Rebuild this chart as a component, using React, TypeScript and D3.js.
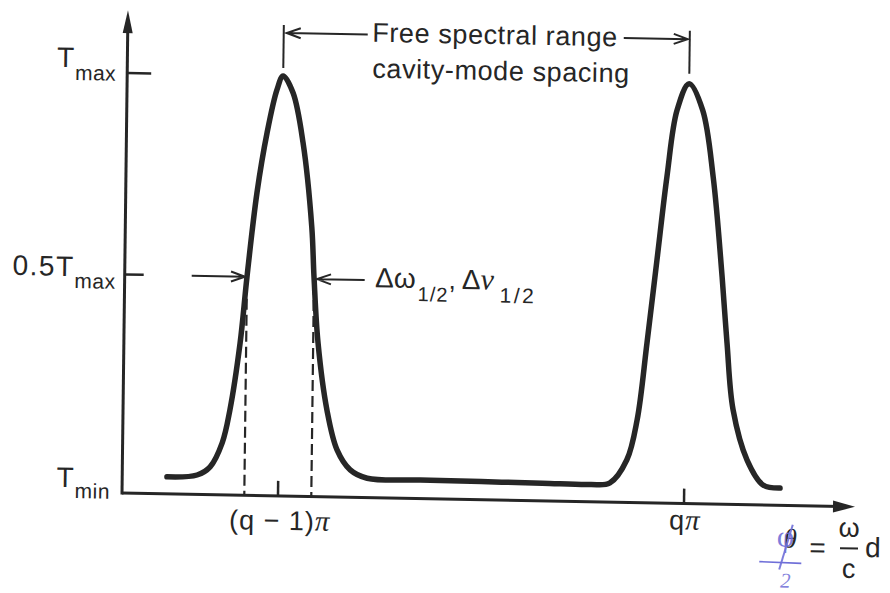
import React from 'react';
import * as d3 from 'd3';

// phase, as offset from (q - 1)π in units of π
const curvePhase = [
    -0.274, -0.2, -0.168, -0.139, -0.121, -0.098, -0.083, -0.061, -0.038, -0.015, 0,
    0.025, 0.051, 0.075, 0.082, 0.094, 0.118, 0.144, 0.177, 0.219,
    0.35, 0.5, 0.65, 0.768, 0.817,
    0.858, 0.882, 0.904, 0.926, 0.948, 0.971, 1,
    1.034, 1.062, 1.087, 1.101, 1.118, 1.154, 1.194, 1.236
];
// transmission, 0 = Tmin, 1 = Tmax
const curveT = [
    0, 0.006, 0.027, 0.087, 0.169, 0.335, 0.5, 0.709, 0.858, 0.965, 1,
    0.958, 0.835, 0.627, 0.503, 0.339, 0.173, 0.075, 0.026, 0.006,
    0.004, 0.003, 0.002, 0.001, 0.006,
    0.064, 0.163, 0.355, 0.561, 0.768, 0.934, 1,
    0.935, 0.769, 0.522, 0.359, 0.193, 0.069, 0.008, 0.001
];

const xTickValues = [0, 1];
const xTickLabels = ['(q − 1)', 'q'];
const yTickValues = [1, 0.5];
const yTickLabels = ['T', '0.5T'];
const halfWidthPhase = [-0.083, 0.082];

const width = 890, height = 593;
const ink = '#262626';
const pen = '#6f6fd8';
const sans = '"Liberation Sans", Arial, Helvetica, sans-serif';
const serif = '"Liberation Serif", "Times New Roman", serif';

function arrow(x1: number, y1: number, x2: number, y2: number, len = 14, half = 5) {
    const L = Math.hypot(x2 - x1, y2 - y1);
    const ux = (x2 - x1) / L, uy = (y2 - y1) / L;
    const bx = x2 - ux * len, by = y2 - uy * len;
    return `M${x1},${y1}L${x2},${y2}M${bx - uy * half},${by + ux * half}L${x2},${y2}L${bx + uy * half},${by - ux * half}`;
}

export default function App() {
    const x = d3.scaleLinear().domain([-0.3842, 1.4212]).range([122, 855]);
    const y = d3.scaleLinear().domain([0, 1]).range([476, 73]);
    const yAxisExtent = [-0.042, 1.156];

    const x0 = x.range()[0], x1 = x.range()[1];
    const axisY = y(yAxisExtent[0]);
    const axisTop = y(yAxisExtent[1]);

    // scan is slightly sheared; keep the drawing flat and skew the whole group
    const shx = -0.0124, shy = 0.019;
    const skew = `matrix(1,${shy},${shx},1,${-shx * axisY},${-shy * x0})`;

    const line = d3.line<number>()
        .x((d, i) => x(curvePhase[i]))
        .y(d => y(d))
        .curve(d3.curveCatmullRom.alpha(0.5));

    const topY = y(1);
    const halfY = y(0.5);

    return (
        <svg width={width} height={height} style={{position: 'absolute', left: 0, top: 0, background: '#fff'}}>
            <g transform={skew} fontFamily={sans} fill={ink}>
                {/* dashed half-width markers */}
                {halfWidthPhase.map((p, i) => (
                    <line key={'d' + i} x1={x(p)} x2={x(p)} y1={halfY + 6} y2={axisY}
                          stroke={ink} strokeWidth={2.2} strokeDasharray="11 5"/>
                ))}

                {/* axes */}
                <line x1={x0} y1={axisY} x2={x1 - 14} y2={axisY} stroke={ink} strokeWidth={3}/>
                <path d={`M${x1},${axisY}L${x1 - 22},${axisY - 6}L${x1 - 22},${axisY + 6}Z`} fill={ink}/>
                <line x1={x0} y1={axisY + 1.5} x2={x0} y2={axisTop + 14} stroke={ink} strokeWidth={3}/>
                <path d={`M${x0},${axisTop}L${x0 - 5},${axisTop + 23}L${x0 + 5},${axisTop + 23}Z`} fill={ink}/>

                {/* y ticks */}
                {yTickValues.map((v, i) => (
                    <line key={'yt' + i} x1={x0} x2={x0 + (i === 0 ? 24 : 19)} y1={y(v)} y2={y(v)}
                          stroke={ink} strokeWidth={2.5}/>
                ))}
                <text x={111} y={y(yTickValues[0]) - 5} fontSize={28} letterSpacing={1} textAnchor="end">
                    {yTickLabels[0]}<tspan dy={13} fontSize={21} letterSpacing={0.5}>max</tspan>
                </text>
                <text x={113} y={y(yTickValues[1]) + 2.5} fontSize={28} letterSpacing={1.5} textAnchor="end">
                    {yTickLabels[1]}<tspan dy={12} fontSize={21} letterSpacing={0.5}>max</tspan>
                </text>
                <text x={110} y={y(0) + 12} fontSize={28} letterSpacing={1} textAnchor="end">
                    T<tspan dy={11} fontSize={21} letterSpacing={0.5}>min</tspan>
                </text>

                {/* x ticks */}
                {xTickValues.map((v, i) => (
                    <line key={'xt' + i} x1={x(v)} x2={x(v)} y1={axisY} y2={axisY - 15}
                          stroke={ink} strokeWidth={2.5}/>
                ))}
                <text x={x(xTickValues[0]) + 2} y={axisY + 34} fontSize={27} letterSpacing={1} textAnchor="middle">
                    {xTickLabels[0]}<tspan fontFamily={serif} fontStyle="italic" fontSize={29}>π</tspan>
                </text>
                <text x={x(xTickValues[1]) + 1} y={axisY + 26} fontSize={27} letterSpacing={1} textAnchor="middle">
                    {xTickLabels[1]}<tspan fontFamily={serif} fontStyle="italic" fontSize={29}>π</tspan>
                </text>

                {/* transmission curve */}
                <path d={line(curveT) || ''} fill="none" stroke={ink} strokeWidth={5.5}
                      strokeLinecap="round" strokeLinejoin="round"/>

                {/* free spectral range bracket */}
                <line x1={x(0)} x2={x(0)} y1={topY - 8} y2={topY - 51} stroke={ink} strokeWidth={2}/>
                <line x1={x(1)} x2={x(1)} y1={topY - 10} y2={topY - 53} stroke={ink} strokeWidth={2}/>
                <path d={arrow(362, topY - 43, x(0) + 3, topY - 43)} fill="none" stroke={ink} strokeWidth={2}/>
                <path d={arrow(618, topY - 44.5, x(1) - 2, topY - 44.5)} fill="none" stroke={ink} strokeWidth={2}/>
                <text x={366.5} y={topY - 36} fontSize={27} letterSpacing={0.6}>Free spectral range</text>
                <text x={367} y={topY} fontSize={27} letterSpacing={0.6}>cavity-mode spacing</text>

                {/* half-width arrows */}
                <path d={arrow(189, halfY, x(halfWidthPhase[0]) - 2, halfY)} fill="none" stroke={ink} strokeWidth={2}/>
                <path d={arrow(362, halfY + 1, x(halfWidthPhase[1]) + 3, halfY + 1)} fill="none" stroke={ink} strokeWidth={2}/>
                <text x={372.5} y={halfY + 8} fontSize={28}>
                    Δω<tspan dx={2} dy={13} fontSize={20} letterSpacing={1}>1/2</tspan><tspan dy={-13} fontSize={26}>,</tspan>
                    <tspan dx={6}>Δ</tspan><tspan fontFamily={serif} fontStyle="italic" fontSize={30}>ν</tspan>
                    <tspan dx={6} dy={13} fontSize={21} letterSpacing={2.5}>1/2</tspan>
                </text>

                {/* axis variable */}
                <text x={784} y={535} fontFamily={serif} fontStyle="italic" fontSize={27}>θ</text>
                <text x={810} y={544} fontSize={28}>=</text>
                <text x={849.5} y={523} fontSize={27} textAnchor="middle">ω</text>
                <line x1={840.5} x2={858.5} y1={534.5} y2={534.5} stroke={ink} strokeWidth={2}/>
                <text x={849.5} y={564} fontSize={27} textAnchor="middle">c</text>
                <text x={865.5} y={543} fontSize={28}>d</text>

                {/* handwritten correction */}
                <text x={786} y={534} fontFamily={serif} fontSize={30} fill={pen}
                      textAnchor="middle" opacity={0.9}>φ</text>
                <path d="M793,512 L780,557" stroke={pen} strokeWidth={2} fill="none" opacity={0.9}/>
                <path d="M760,549.5 L802,550.5" stroke={pen} strokeWidth={1.6} fill="none"/>
                <text x={781} y={575} fontFamily={serif} fontStyle="italic" fontSize={21} fill={pen} opacity={0.85}>2</text>
            </g>
        </svg>
    );
}
